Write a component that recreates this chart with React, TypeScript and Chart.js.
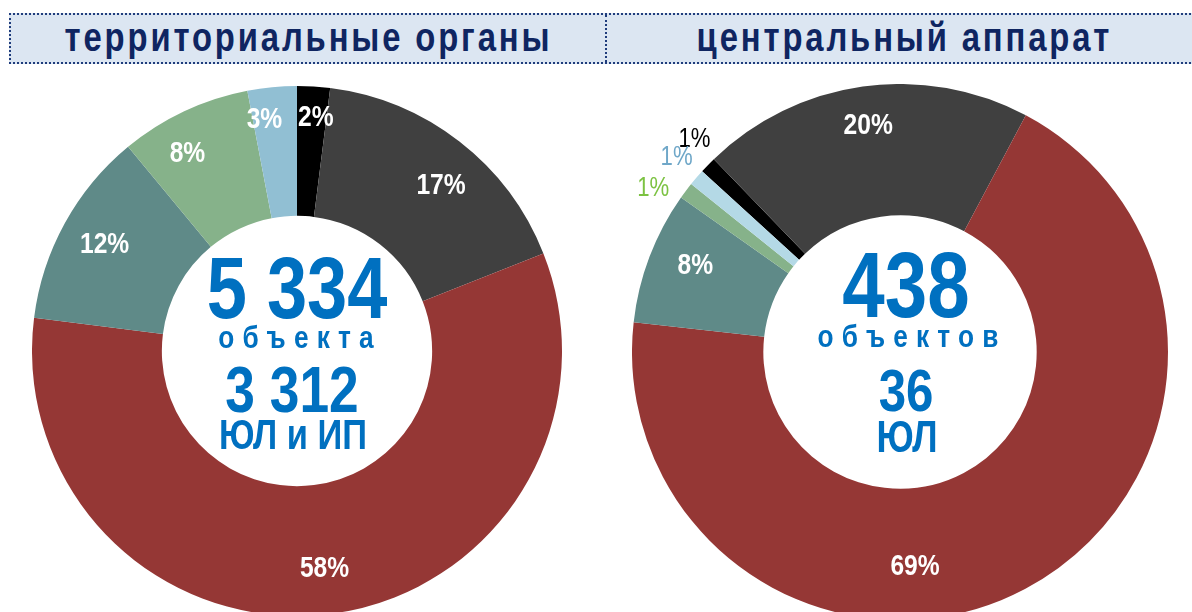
import React, { useEffect, useRef } from "react";
import { Chart, registerables } from "chart.js";

Chart.register(...registerables);

// ---- data ----
const segmentNames = ["Прочие", "Категория 2", "Категория 3", "Категория 4", "Категория 5", "Категория 6"];
const territorialValues = [2, 17, 58, 12, 8, 3];
const territorialLabels = ["2%", "17%", "58%", "12%", "8%", "3%"];
const centralValues = [1, 20, 69, 8, 1, 1];
const centralLabels = ["1%", "20%", "69%", "8%", "1%", "1%"];

const headerTitles = ["территориальные органы", "центральный аппарат"];
const territorialCenter = ["5 334", "объекта", "3 312", "ЮЛ и ИП"];
const centralCenter = ["438", "объектов", "36", "ЮЛ"];

// ---- styles ----
const FONT = '"Liberation Sans", Arial, sans-serif';
const NARROW = 0.82;
const territorialColors = ["#000000", "#404040", "#953735", "#5f8a88", "#86b28a", "#91bfd3"];
const centralColors = ["#000000", "#404040", "#953735", "#5f8a88", "#86b28a", "#b4d9e6"];
const BLUE = "#0070c0";
const NAVY = "#0f2561";

const sliceLabelPlugin = {
  id: "sliceLabels",
  afterDatasetsDraw(chart: any, _args: any, opts: any) {
    const ctx = chart.ctx as CanvasRenderingContext2D;
    const meta = chart.getDatasetMeta(0);
    const labels: string[] = opts.labels || [];
    meta.data.forEach((arc: any, i: number) => {
      const p = arc.getProps(["x", "y", "startAngle", "endAngle", "innerRadius", "outerRadius"], true);
      const outside = opts.outside && opts.outside[i];
      let mid = (p.startAngle + p.endAngle) / 2;
      const ov = opts.angles && opts.angles[i];
      if (ov !== undefined && ov !== null) mid = ((ov - 90) * Math.PI) / 180;
      const rp = (opts.radial && opts.radial[i]) || opts.radialPos;
      const r = outside
        ? p.outerRadius + opts.outsideGap
        : p.innerRadius + (p.outerRadius - p.innerRadius) * rp;
      const x = p.x + Math.cos(mid) * r;
      const y = p.y + Math.sin(mid) * r;
      ctx.save();
      ctx.textAlign = "center";
      ctx.textBaseline = "middle";
      if (outside) {
        ctx.font = `normal 27px ${FONT}`;
        ctx.fillStyle = opts.outsideColors[i];
      } else {
        ctx.font = `bold 30px ${FONT}`;
        ctx.fillStyle = "#ffffff";
      }
      ctx.translate(x, y);
      ctx.scale(NARROW, 1);
      ctx.fillText(labels[i], 0, 0);
      ctx.restore();
    });
  },
};

function Donut(props: {
  values: number[];
  colors: string[];
  labels: string[];
  rotation: number;
  size: number;
  left: number;
  top: number;
  outside?: boolean[];
  angles?: (number | null)[];
  radial?: (number | null)[];
  outsideColors?: string[];
}) {
  const ref = useRef<HTMLCanvasElement | null>(null);
  useEffect(() => {
    if (!ref.current) return;
    const chart = new Chart(ref.current, {
      type: "doughnut",
      data: {
        labels: segmentNames,
        datasets: [
          {
            data: props.values,
            backgroundColor: props.colors,
            borderWidth: 0,
            hoverOffset: 0,
            offset: 0,
          },
        ],
      },
      options: {
        responsive: false,
        animation: false,
        events: [],
        cutout: "51%",
        rotation: props.rotation,
        layout: { padding: 0 },
        plugins: {
          legend: { display: false },
          tooltip: { enabled: false },
          sliceLabels: {
            labels: props.labels,
            radialPos: 0.65,
            outside: props.outside,
            angles: props.angles,
            radial: props.radial,
            outsideGap: 28,
            outsideColors: props.outsideColors,
          },
        } as any,
      },
      plugins: [sliceLabelPlugin as any],
    });
    return () => chart.destroy();
  }, []);
  return (
    <canvas
      ref={ref}
      width={props.size}
      height={props.size}
      style={{ position: "absolute", left: props.left, top: props.top, width: props.size, height: props.size }}
    />
  );
}

function Line(props: { text: string; cx: number; baseline: number; size: number; spacing?: number; color?: string; weight?: string; width?: number }) {
  const sp = props.spacing || 0;
  const w = props.width || 400;
  return (
    <div
      style={{
        position: "absolute",
        left: props.cx - w / 2,
        width: w,
        top: props.baseline - 0.8465 * props.size,
        fontFamily: FONT,
        fontWeight: (props.weight as any) || "bold",
        fontSize: props.size,
        lineHeight: 1,
        letterSpacing: sp,
        paddingLeft: sp,
        boxSizing: "border-box",
        textAlign: "center",
        color: props.color || BLUE,
        whiteSpace: "nowrap",
        transform: `scaleX(${NARROW})`,
        transformOrigin: "50% 50%",
      }}
    >
      {props.text}
    </div>
  );
}

export default function App() {
  const dot = `2px dotted #1f3c7c`;
  return (
    <div style={{ position: "absolute", left: 0, top: 0, width: 1192, height: 612, overflow: "hidden", background: "#ffffff" }}>
      <div
        style={{
          position: "absolute",
          left: 9,
          top: 13,
          width: 1200,
          height: 47,
          background: "#dce6f2",
          borderTop: dot,
          borderBottom: dot,
          borderLeft: dot,
        }}
      />
      <div style={{ position: "absolute", left: 605, top: 15, height: 47, borderLeft: dot }} />
      <Line text={headerTitles[0]} cx={307} baseline={51} size={40} spacing={3.5} color={NAVY} width={700} />
      <Line text={headerTitles[1]} cx={903} baseline={51} size={40} spacing={3.5} color={NAVY} width={700} />

      <Donut
        values={territorialValues}
        colors={territorialColors}
        labels={territorialLabels}
        rotation={0}
        size={530}
        left={32}
        top={86}
        angles={[4.6, 41, null, null, 331, 352]}
        radial={[0.76, null, null, null, 0.7, 0.76]}
      />
      <Donut
        values={centralValues}
        colors={centralColors}
        labels={centralLabels}
        rotation={-47.6}
        size={536}
        left={632}
        top={84}
        outside={[true, false, false, false, true, true]}
        angles={[-44, null, 176, 292.8, -56.5, -49]}
        radial={[null, 0.7, 0.6, null, null, null]}
        outsideColors={["#000000", "", "", "", "#7cc242", "#6fa7c8"]}
      />

      <Line text={territorialCenter[0]} cx={297} baseline={318} size={88} />
      <Line text={territorialCenter[1]} cx={296} baseline={348} size={32} spacing={10} />
      <Line text={territorialCenter[2]} cx={292} baseline={412} size={65} />
      <Line text={territorialCenter[3]} cx={293} baseline={450} size={42} />

      <Line text={centralCenter[0]} cx={906} baseline={318} size={93} />
      <Line text={centralCenter[1]} cx={908} baseline={347} size={32} spacing={10} />
      <Line text={centralCenter[2]} cx={906} baseline={412} size={60} />
      <Line text={centralCenter[3]} cx={907} baseline={452} size={44} />
    </div>
  );
}
